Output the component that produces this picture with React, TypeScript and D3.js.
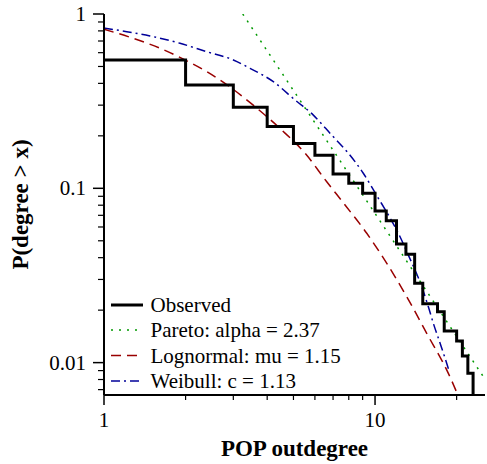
import React from "react";
import * as d3 from "d3";

// ---- data ----
const stepDegrees = [1, 2, 3, 4, 5, 6, 7, 8, 9, 10, 11, 12, 13, 14, 15, 17, 18, 20, 21, 22, 23];
const stepCCDF = [0.545, 0.392, 0.292, 0.226, 0.181, 0.155, 0.121, 0.107, 0.0936, 0.0741, 0.0652, 0.0479, 0.0418, 0.0285, 0.0218, 0.0196, 0.0152, 0.0133, 0.0109, 0.0087];

const paretoX = [3.25, 25.0];
const paretoP = [1.0, 0.00838];

const lognormX = [1.0, 1.283, 1.609, 1.99, 2.393, 2.917, 3.607, 4.525, 5.517, 6.635, 7.75, 9.32, 11.05, 13.09, 15.51, 18.64, 20.4];
const lognormP = [0.817, 0.725, 0.636, 0.545, 0.467, 0.381, 0.294, 0.216, 0.159, 0.109, 0.0802, 0.0552, 0.0371, 0.0239, 0.01473, 0.00868, 0.0063];

const weibullX = [1.0, 1.213, 1.478, 1.907, 2.393, 3.0, 3.457, 4.214, 5.07, 5.92, 6.92, 7.97, 9.05, 10.29, 11.2, 12.19, 13.27, 14.87, 15.73, 16.41, 17.38, 18.13, 18.8];
const weibullP = [0.831, 0.792, 0.748, 0.679, 0.608, 0.545, 0.488, 0.409, 0.321, 0.263, 0.202, 0.159, 0.122, 0.0876, 0.0703, 0.0552, 0.0414, 0.02725, 0.0209, 0.0168, 0.0129, 0.01059, 0.00887];

const xMajorTicks = [1, 10];
const xTickLabels = ["1", "10"];
const yMajorTicks = [1, 0.1, 0.01];
const yTickLabels = ["1", "0.1", "0.01"];

const legendLabels = ["Observed", "Pareto: alpha = 2.37", "Lognormal: mu = 1.15", "Weibull: c = 1.13"];

const xDomain = [1, 25.45];
const yDomain = [0.00652, 1];

// ---- layout ----
const W = 487;
const H = 464;
const left = 104;
const right = 485;
const top = 14;
const bottom = 395;
const SERIF = '"Liberation Serif"';

function T(props: any) {
  const { children, ...rest } = props;
  return (
    <text {...rest} fontFamily="Liberation Serif" style={{ fontFamily: SERIF }}>
      {children}
    </text>
  );
}

export default function App() {
  const x = d3.scaleLog().domain(xDomain).range([left, right]);
  const y = d3.scaleLog().domain(yDomain).range([bottom, top]);

  const stepPts: [number, number][] = stepCCDF.map((p, i) => [stepDegrees[i], p]);
  stepPts.push([stepDegrees[stepDegrees.length - 1], yDomain[0]]);
  const stepLine = d3
    .line<[number, number]>()
    .x((d) => x(d[0]))
    .y((d) => y(d[1]))
    .curve(d3.curveStepAfter);

  const smooth = d3
    .line<[number, number]>()
    .x((d) => x(d[0]))
    .y((d) => y(d[1]))
    .curve(d3.curveMonotoneX);

  const zip = (a: number[], b: number[]) => a.map((v, i) => [v, b[i]] as [number, number]);

  const yMinor: number[] = [];
  for (const base of [0.001, 0.01, 0.1]) {
    for (let k = 2; k <= 9; k++) {
      const v = base * k;
      if (v >= yDomain[0] && v <= yDomain[1]) yMinor.push(v);
    }
  }
  const xMinor: number[] = [];
  for (const base of [1, 10]) {
    for (let k = 2; k <= 9; k++) {
      const v = base * k;
      if (v >= xDomain[0] && v <= xDomain[1]) xMinor.push(v);
    }
  }

  const green = "#009900";
  const red = "#990000";
  const blue = "#000099";

  const legendStyles = [
    { stroke: "#000", width: 3, dash: undefined as string | undefined },
    { stroke: green, width: 1.5, dash: "2,6" },
    { stroke: red, width: 1.5, dash: "10,6" },
    { stroke: blue, width: 1.5, dash: "9,4,2,4" },
  ];
  const legendY = [305, 330, 355.5, 381];

  return (
    <svg width={W} height={H} style={{ position: "absolute", left: 0, top: 0 }}>
      <defs>
        <clipPath id="plotClip">
          <rect x={left} y={top} width={right - left} height={bottom - top} />
        </clipPath>
      </defs>

      <g clipPath="url(#plotClip)">
        <path d={smooth(zip(weibullX, weibullP)) || ""} fill="none" stroke={blue} strokeWidth={1.5} strokeDasharray="9,4,2,4" />
        <path d={smooth(zip(lognormX, lognormP)) || ""} fill="none" stroke={red} strokeWidth={1.5} strokeDasharray="10,6" />
        <path d={smooth(zip(paretoX, paretoP)) || ""} fill="none" stroke={green} strokeWidth={1.5} strokeDasharray="2,6" />
        <path d={stepLine(stepPts) || ""} fill="none" stroke="#000" strokeWidth={3} strokeLinejoin="miter" />
      </g>

      <line x1={left} x2={left} y1={top} y2={bottom} stroke="#000" strokeWidth={2} />
      <line x1={left} x2={right} y1={bottom} y2={bottom} stroke="#000" strokeWidth={2} />

      {yMajorTicks.map((v, i) => (
        <g key={"ym" + i}>
          <line x1={left - 11} x2={left} y1={y(v)} y2={y(v)} stroke="#000" strokeWidth={1.5} />
          <T x={left - 18} y={y(v) + 7} textAnchor="end" fontSize={21}>
            {yTickLabels[i]}
          </T>
        </g>
      ))}
      {yMinor.map((v, i) => (
        <line key={"yn" + i} x1={left - 6} x2={left} y1={y(v)} y2={y(v)} stroke="#000" strokeWidth={1.2} />
      ))}

      {xMajorTicks.map((v, i) => (
        <g key={"xm" + i}>
          <line x1={x(v)} x2={x(v)} y1={bottom} y2={bottom + 10} stroke="#000" strokeWidth={1.5} />
          <T x={x(v)} y={427} textAnchor="middle" fontSize={21}>
            {xTickLabels[i]}
          </T>
        </g>
      ))}
      {xMinor.map((v, i) => (
        <line key={"xn" + i} x1={x(v)} x2={x(v)} y1={bottom} y2={bottom + 5} stroke="#000" strokeWidth={1.2} />
      ))}

      <T x={(left + right) / 2} y={456} textAnchor="middle" fontSize={23} fontWeight="bold">
        POP outdegree
      </T>
      <T transform={`translate(28, ${(top + bottom) / 2}) rotate(-90)`} textAnchor="middle" fontSize={23} fontWeight="bold">
        P(degree &gt; x)
      </T>

      {legendLabels.map((lab, i) => (
        <g key={"lg" + i}>
          <line
            x1={111}
            x2={143}
            y1={legendY[i]}
            y2={legendY[i]}
            stroke={legendStyles[i].stroke}
            strokeWidth={legendStyles[i].width}
            strokeDasharray={legendStyles[i].dash}
          />
          <T x={150.5} y={legendY[i] + 7} fontSize={21}>
            {lab}
          </T>
        </g>
      ))}
    </svg>
  );
}
